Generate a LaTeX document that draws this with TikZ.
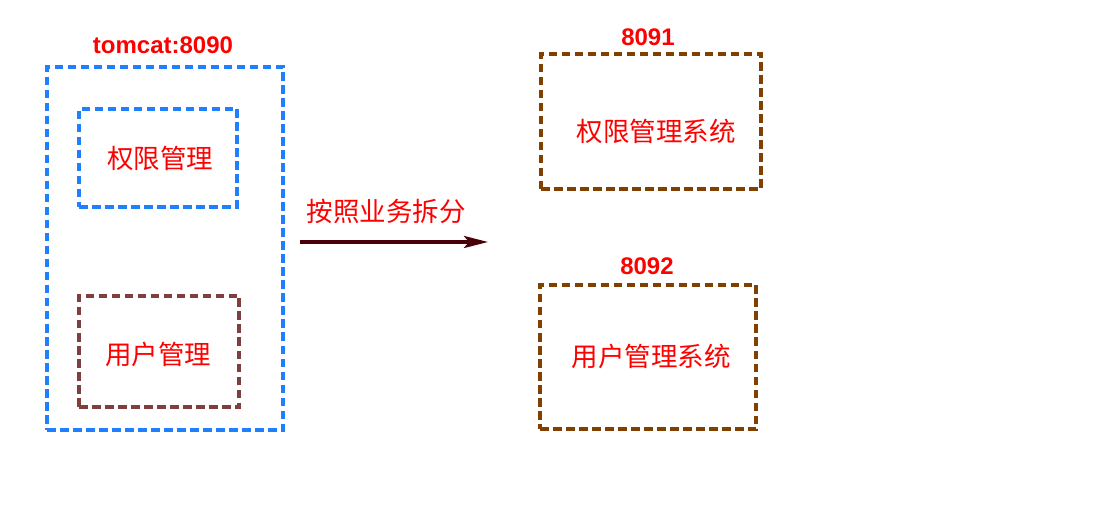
\documentclass[tikz,border=0pt]{standalone}
\usepackage{fontspec}
\setmainfont{Liberation Sans}
\newfontfamily\cjk{Noto Sans CJK SC}
\usetikzlibrary{arrows.meta}
\definecolor{boxblue}{HTML}{1E7FFF}
\definecolor{boxrose}{HTML}{7F3F3F}
\definecolor{boxbrown}{HTML}{7F4000}
\definecolor{arrowdark}{HTML}{4A0008}
\definecolor{txtred}{HTML}{FF0000}
\tikzset{
  dbox/.style={draw, line width=3.3pt, dash pattern=on 8.5pt off 4.5pt, inner sep=0pt},
  cjklabel/.style={text=txtred, font=\cjk\fontsize{26.5}{30}\selectfont, inner sep=0pt},
  numlabel/.style={text=txtred, font=\bfseries\fontsize{24}{27}\selectfont, inner sep=0pt},
}
\begin{document}
\begin{tikzpicture}[x=1pt,y=-1pt]
\useasboundingbox (0,0) rectangle (1112,513);
% outer tomcat box
\node[dbox, boxblue, minimum width=236pt, minimum height=363pt] (outer) at (165,248.5) {};
\node[numlabel] (tomcat) at (163,45) {tomcat:8090};
\node[dbox, boxblue, minimum width=158pt, minimum height=98pt] (perm) at (158,158) {};
\node[cjklabel] (permt) at (160,158) {权限管理};
\node[dbox, boxrose, minimum width=160pt, minimum height=111pt] (user) at (159,351.5) {};
\node[cjklabel] (usert) at (158,354) {用户管理};
% right boxes
\node[dbox, boxbrown, minimum width=220pt, minimum height=135pt] (sys1) at (651,121.5) {};
\node[numlabel] (p1) at (648,37) {8091};
\node[cjklabel] (sys1t) at (656,131) {权限管理系统};
\node[dbox, boxbrown, minimum width=216pt, minimum height=144pt] (sys2) at (648,357) {};
\node[numlabel] (p2) at (647,266) {8092};
\node[cjklabel] (sys2t) at (651,356) {用户管理系统};
% arrow
\coordinate (as) at (300,242);
\coordinate (ae) at (488,242);
\draw[arrowdark, line width=3.5pt, -{Stealth[length=24pt,width=12pt,inset=5pt]}] (as) -- (ae);
\node[cjklabel] (split) at (386,211) {按照业务拆分};
\end{tikzpicture}
\end{document}
